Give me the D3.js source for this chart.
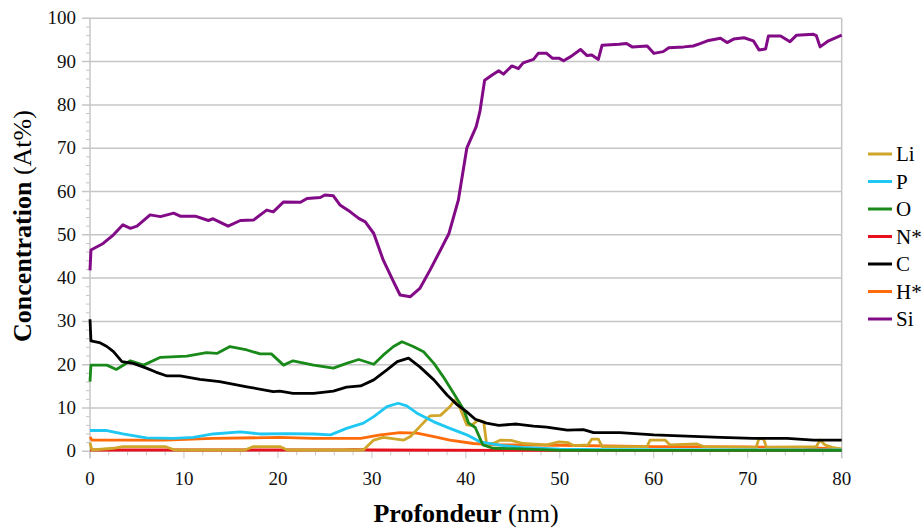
<!DOCTYPE html>
<html><head><meta charset="utf-8">
<script src="https://cdn.jsdelivr.net/npm/d3@7"></script>
<style>body{margin:0;background:#fff;}svg{display:block;}svg text{font-family:"Liberation Serif","Times New Roman",serif;}</style>
</head><body><svg id="c" width="923" height="530"></svg>
<script>
const seriesNames = ["Li","P","O","N*","C","H*","Si"];
const seriesColors = ["#cfa52a","#1ec8f2","#198a19","#e8101c","#000000","#ff6a0a","#820a86"];
const xTicks = [0,10,20,30,40,50,60,70,80];
const yTicks = [0,10,20,30,40,50,60,70,80,90,100];

const siData = [[0,41.8],[0.1,46.5],[1.4,48],[2.5,50],[3.5,52.3],[4.3,51.5],[5,52],[6.4,54.6],[7.5,54.2],[8.9,55],[9.6,54.3],[11.2,54.3],[12.6,53.3],[13.1,53.7],[14.7,52],[16,53.3],[17.4,53.4],[18.8,55.7],[19.5,55.3],[20.6,57.6],[22.4,57.5],[23.1,58.4],[24.5,58.6],[25,59.2],[25.9,59],[26.6,56.9],[27.7,55.3],[28.6,53.8],[29.3,53],[30.2,50.3],[31.2,44.2],[32.3,39.2],[33,36.1],[34.1,35.7],[35.1,37.6],[36.2,41.9],[37.3,46.5],[38.2,50.3],[39.2,58],[40.1,70],[41.1,75],[41.5,78.5],[42,85.7],[42.8,86.9],[43.5,87.9],[44,87.1],[44.9,89],[45.6,88.4],[46.1,89.7],[47.2,90.5],[47.7,91.9],[48.6,91.9],[49.2,90.8],[49.9,90.8],[50.4,90.2],[51.2,91.2],[52.2,92.8],[52.9,91.4],[53.4,91.5],[54.1,90.5],[54.5,93.8],[56.3,94],[57.1,94.2],[57.7,93.4],[59.3,93.6],[60,91.9],[61,92.3],[61.6,93.2],[63.2,93.4],[64.2,93.6],[65,94.2],[65.7,94.8],[67.1,95.4],[67.8,94.4],[68.5,95.2],[69.6,95.5],[70.6,94.8],[71.2,92.7],[71.9,92.9],[72.2,95.9],[73.5,95.9],[74.5,94.6],[75.2,96.1],[77,96.3],[77.3,96],[77.7,93.4],[78.6,94.8],[80,96.1]];
const cData = [[0,30.5],[0.1,25.5],[1,25.1],[1.8,24.2],[2.5,23],[3.4,20.7],[4.6,20.3],[6,19.2],[7,18.3],[8.2,17.4],[9.6,17.4],[11.7,16.6],[13.8,16.1],[16.7,14.9],[19.5,13.8],[20.2,13.9],[21.6,13.4],[23.8,13.4],[25.9,13.9],[27.3,14.8],[28.8,15.1],[30.2,16.5],[31.6,18.8],[32.7,20.7],[33.9,21.5],[35.1,19.5],[36.6,16.5],[38,13],[39.1,10.7],[40.1,9.1],[41,7.4],[42.2,6.5],[43.5,6],[45.4,6.3],[47.2,5.8],[48.6,5.6],[50.8,4.9],[52.5,5],[53.6,4.3],[56.4,4.3],[60,3.8],[63.5,3.5],[67.1,3.2],[70.6,3],[74.2,3],[77,2.6],[80,2.6]];
const oData = [[0,16.1],[0.1,19.9],[1.8,19.9],[2.8,18.9],[4.3,20.9],[5.7,19.9],[7.5,21.7],[10.3,22],[12.4,22.8],[13.5,22.6],[14.9,24.2],[16.7,23.4],[18.1,22.5],[19.3,22.5],[20.6,19.9],[21.6,20.9],[23.8,19.9],[25.9,19.2],[27.3,20.3],[28.6,21.2],[30.2,20.1],[31.2,22.2],[32.3,24.2],[33.2,25.3],[34.4,24.2],[35.5,23],[36.6,20.3],[37.6,17.2],[38.7,13.4],[39.8,9.5],[40.3,6.5],[41,5.5],[41.8,1.5],[42.9,0.7],[45,0.6],[48,0.4],[50,0.2],[80,0.2]];
const nData = [[0,0.3],[20,0.3],[27,0.35],[28,0.4],[30,0.3],[45,0.2],[80,0.15]];
const pData = [[0,4.8],[1.8,4.8],[3.5,4],[6,3.1],[8.9,3],[11,3.2],[13.1,4],[16,4.5],[18.1,4],[20.9,4.1],[23.8,4],[25.6,3.8],[27.3,5.3],[29.1,6.5],[30.2,8],[31.6,10.3],[32.8,11.1],[33.7,10.5],[34.8,8.8],[36.6,6.8],[38.3,5.3],[40.1,3.8],[41.5,2.2],[42.6,1.8],[44,1.3],[46,0.9],[50,0.5],[55,0.4],[80,0.3]];
const hData = [[0,3.3],[0.2,2.6],[8,2.6],[13.1,3],[20.2,3.2],[23.8,3],[28.8,3],[30.9,3.8],[33,4.3],[34.8,4.2],[36.6,3.4],[38.3,2.6],[40.8,1.8],[43.5,1.5],[50,1.4],[60,1.1],[70,1],[76,0.9],[80,0.5]];
const liData = [[0,2],[0.2,0.3],[2.5,0.7],[3.5,1.1],[8,1.1],[9,0.3],[16.5,0.3],[17.4,1.1],[20.2,1.1],[21,0.3],[29.1,0.3],[30.2,2.6],[31.2,3.2],[33.4,2.6],[34.1,3.4],[35.1,5.7],[36.2,8.2],[37.3,8.3],[38.3,10.3],[38.8,11.8],[39.4,9.9],[40.1,6.1],[40.6,6],[41.3,7.2],[41.9,6.8],[42.2,1.8],[42.9,1.8],[43.7,2.6],[44.8,2.5],[46.1,1.8],[48.6,1.5],[49.9,2.2],[50.9,2],[51.5,1.3],[53,1.5],[53.4,2.8],[54.1,2.8],[54.5,1.1],[59.3,1.1],[59.6,2.6],[61.2,2.6],[61.7,1.5],[64.6,1.7],[65.3,1.1],[70.9,0.9],[71.2,3],[71.7,2.8],[72,0.9],[77.3,1.1],[77.7,2.6],[78.2,1.5],[79,0.9],[80,0.5]];

const seriesData = [liData,pData,oData,nData,cData,hData,siData];

const svg = d3.select("#c");
const L = 90, R = 841.7, T = 18.3, B = 451.3;
const x = d3.scaleLinear().domain([0,80]).range([L,R]);
const y = d3.scaleLinear().domain([0,100]).range([B,T]);
const grid = "#c6c6c6";
const serif = "'Liberation Serif','Times New Roman',serif";

svg.append("g").selectAll("line").data(yTicks.filter(d=>d>0)).join("line")
  .attr("x1",L-8).attr("x2",R).attr("y1",d=>y(d)).attr("y2",d=>y(d))
  .attr("stroke",grid).attr("stroke-width",1.5);
svg.append("g").selectAll("line").data(d3.range(0,101,2).filter(d=>d%10)).join("line")
  .attr("x1",L-4).attr("x2",L).attr("y1",d=>y(d)).attr("y2",d=>y(d))
  .attr("stroke",grid).attr("stroke-width",1);
svg.append("g").selectAll("line").data(d3.range(0,81,2)).join("line")
  .attr("x1",d=>x(d)).attr("x2",d=>x(d)).attr("y1",B).attr("y2",d=>B+(d%10?4:7))
  .attr("stroke",grid).attr("stroke-width",1);
svg.append("line").attr("x1",L).attr("x2",L).attr("y1",T).attr("y2",B+7).attr("stroke",grid).attr("stroke-width",1.5);
svg.append("line").attr("x1",R).attr("x2",R).attr("y1",T).attr("y2",B+7).attr("stroke",grid).attr("stroke-width",1.5);
svg.append("line").attr("x1",L-8).attr("x2",R).attr("y1",B).attr("y2",B).attr("stroke",grid).attr("stroke-width",1.5);

svg.append("g").selectAll("text").data(yTicks).join("text")
  .attr("x",76).attr("y",d=>y(d)+6).attr("text-anchor","end").attr("font-family",serif)
  .attr("font-size",19).attr("fill","#111").text(d=>d);
svg.append("g").selectAll("text").data(xTicks).join("text")
  .attr("x",d=>x(d)).attr("y",485).attr("text-anchor","middle").attr("font-family",serif)
  .attr("font-size",19).attr("fill","#111").text(d=>d);

const xt = svg.append("text").attr("x",466).attr("y",522).attr("text-anchor","middle").attr("font-family",serif).attr("font-size",26).attr("fill","#000");
xt.append("tspan").attr("font-weight","bold").text("Profondeur");
xt.append("tspan").text(" (nm)");
const yt = svg.append("text").attr("transform","translate(31,226) rotate(-90)").attr("text-anchor","middle").attr("font-family",serif).attr("font-size",26).attr("fill","#000");
yt.append("tspan").attr("font-weight","bold").text("Concentration");
yt.append("tspan").text(" (At%)");

const line = d3.line().x(d=>x(d[0])).y(d=>y(d[1]));
const order = [3,5,0,1,2,4,6];
order.forEach(i=>{
  svg.append("path").datum(seriesData[i]).attr("d",line).attr("fill","none")
    .attr("stroke",seriesColors[i]).attr("stroke-width",i===6?3:2.8)
    .attr("stroke-linejoin","round");
});

const lg = svg.append("g");
seriesNames.forEach((n,i)=>{
  const yy = 154 + i*27.5;
  lg.append("line").attr("x1",868).attr("x2",892).attr("y1",yy).attr("y2",yy).attr("stroke",seriesColors[i]).attr("stroke-width",3);
  lg.append("text").attr("x",896).attr("y",yy+7).attr("font-family",serif).attr("font-size",21).attr("fill","#000").text(n);
});
</script></body></html>
